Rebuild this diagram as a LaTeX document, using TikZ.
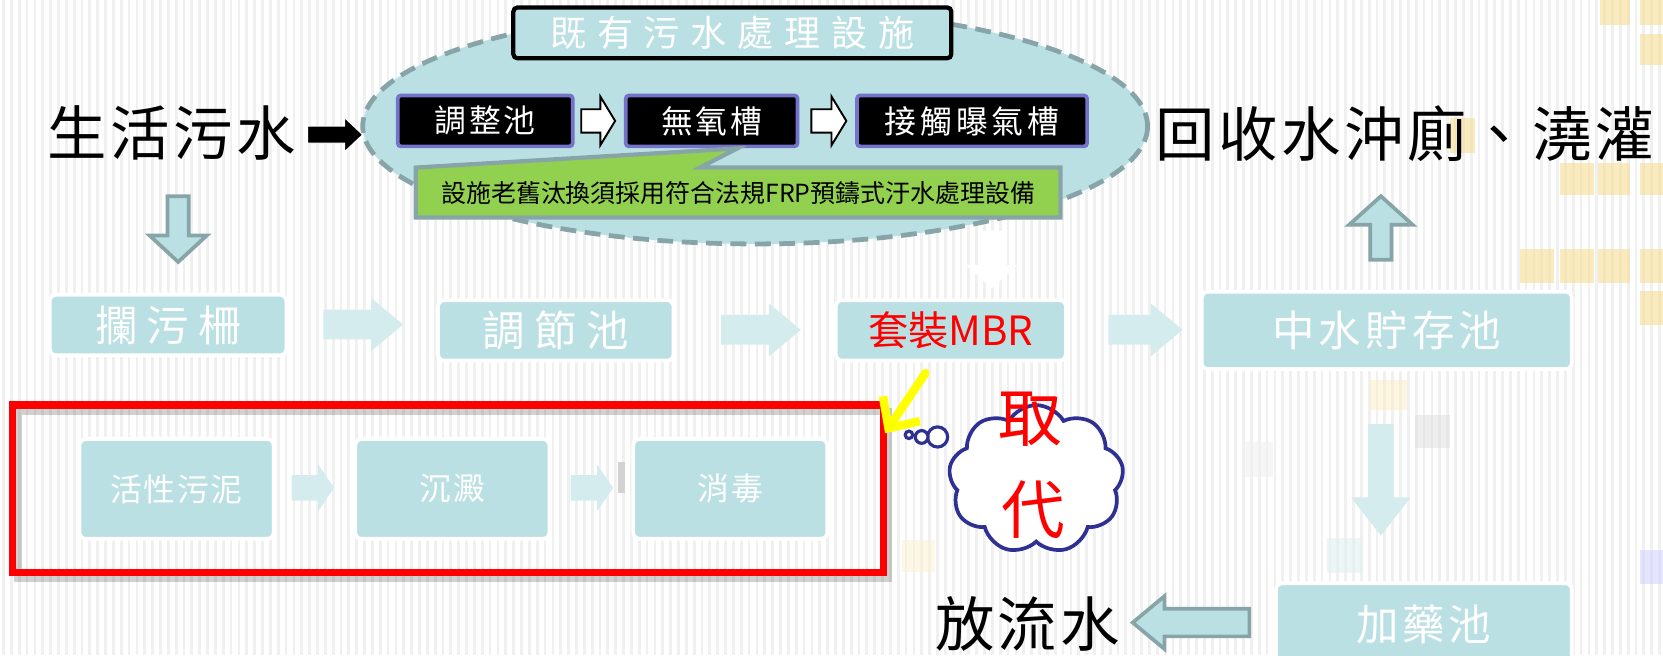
\documentclass[tikz,border=0pt]{standalone}
\usepackage{fontspec}
\newfontfamily\cjk{Noto Sans CJK TC}
\usetikzlibrary{shapes.symbols,arrows.meta,calc}
\definecolor{boxc}{HTML}{BBE0E3}
\definecolor{arrc}{HTML}{D5ECEE}
\definecolor{edgec}{HTML}{87A5A8}
\definecolor{purp}{HTML}{7373C9}
\definecolor{greenc}{HTML}{92D050}
\definecolor{navy}{HTML}{2E3192}
\definecolor{sqy}{HTML}{F7DC8C}
\definecolor{stripe}{HTML}{F0F0F0}
\definecolor{yel}{HTML}{FFFF00}
\newcommand\cjkf[2]{\cjk\addfontfeature{LetterSpace=#2}\fontsize{#1}{#1}\selectfont}
% horizontal block arrow: style, x start, x tip, y centre, shaft half, head half, head length (signed)
\newcommand\rarr[7]{\path[#1] (#2,{#4-#5}) -- ({#3-(#7)},{#4-#5}) -- ({#3-(#7)},{#4-#6}) -- (#3,#4) -- ({#3-(#7)},{#4+#6}) -- ({#3-(#7)},{#4+#5}) -- (#2,{#4+#5}) -- cycle;}
% vertical block arrow: style, y start, y tip, x centre, shaft half, head half, head length (signed)
\newcommand\varr[7]{\path[#1] ({#4-#5},#2) -- ({#4-#5},{#3-(#7)}) -- ({#4-#6},{#3-(#7)}) -- (#4,#3) -- ({#4+#6},{#3-(#7)}) -- ({#4+#5},{#3-(#7)}) -- ({#4+#5},#2) -- cycle;}
\tikzset{
  fade/.style={fill=boxc, draw=white, line width=3.5, rounded corners=6, text=white, inner sep=0pt},
  blk/.style={fill=black, draw=purp, line width=3.5, rounded corners=3, text=white, inner sep=0pt, minimum height=48},
  larr/.style={fill=arrc, draw=none},
  harr/.style={fill=boxc, draw=edgec, line width=3.5, line join=miter},
  warr/.style={fill=white, draw=black, line width=1.8, line join=miter},
  big/.style={font=\cjkf{56}{6}, text=black, inner sep=0pt},
  bub/.style={circle, draw=navy, line width=3, fill=white, inner sep=0pt},
}
\begin{document}
\begin{tikzpicture}[x=1pt,y=-1pt]
\useasboundingbox (0,0) rectangle (1568,617.6);
% background
\fill[white] (0,0) rectangle (1568,617.6);
\foreach \i in {0,...,212} \fill[stripe] ({\i*7.4+2},0) rectangle ({\i*7.4+4.6},617.6);
\begin{scope}[fill opacity=0.55]
\fill[sqy] (1509,0) rectangle (1537,24);
\fill[sqy] (1546,0) rectangle (1568,24);
\fill[sqy] (1546,32) rectangle (1568,61);
\fill[sqy] (1367,111) rectangle (1391,144);
\fill[sqy] (1471,154) rectangle (1503,184);
\fill[sqy] (1507,154) rectangle (1537,184);
\fill[sqy] (1546,154) rectangle (1568,184);
\fill[sqy] (1433,235) rectangle (1465,267);
\fill[sqy] (1471,235) rectangle (1503,267);
\fill[sqy] (1507,235) rectangle (1537,267);
\fill[sqy] (1546,235) rectangle (1568,267);
\fill[sqy] (1546,274) rectangle (1568,306);
\fill[sqy!50] (1292,358) rectangle (1327,387);
\fill[sqy!40] (850,509) rectangle (882,539);
\fill[gray!25] (1334,391) rectangle (1367,422);
\fill[gray!12] (1171,417) rectangle (1200,450);
\fill[teal!12] (1251,507) rectangle (1284,540);
\fill[blue!18] (1546,519) rectangle (1568,551);
\end{scope}

% existing facility group
\draw[edgec, line width=4.5, dash pattern=on 15pt off 8pt, fill=boxc] (712,119) ellipse [x radius=370, y radius=111];
\node[draw=black, line width=4, rounded corners=4, fill=boxc, minimum width=413, minimum height=48, inner sep=0pt, text=white, font=\cjkf{34}{30}] (title) at (690.5,31) {既有污水處理設施};
\node[blk, minimum width=165, font=\cjkf{30}{8}] (tj) at (457.5,114) {調整池};
\node[blk, minimum width=162, font=\cjkf{30}{8}] (wy) at (671,114) {無氧槽};
\node[blk, minimum width=217, font=\cjkf{30}{12}] (jc) at (916.5,114) {接觸曝氣槽};
\rarr{warr}{548}{580}{114}{11}{23}{14}
\rarr{warr}{765}{798}{114}{11}{23}{14}
\path[fill=greenc, draw=edgec, line width=4, line join=miter] (392,158) -- (695,140) -- (660,158) -- (1000,158) -- (1000,205) -- (392,205) -- cycle;
\node[font=\cjkf{23.5}{0}, inner sep=0pt] (note) at (696,182) {設施老舊汰換須採用符合法規FRP預鑄式汙水處理設備};

% inputs / outputs
\node[big] (src) at (162,125) {生活污水};
\rarr{fill=black, draw=white, line width=1}{290}{342}{127}{8}{16}{17}
\node[big] (reuse) at (1325,126) {回收水沖廁、澆灌};
\varr{harr}{185}{247}{168}{10}{27}{25}
\varr{harr}{245}{185}{1302}{10}{30}{-27}
\varr{fill=white}{218}{272}{935}{12}{24}{22}

% process row
\node[fade, minimum width=223, minimum height=57, font=\cjkf{40}{22}] (lan) at (158.5,306.5) {攔污柵};
\node[fade, minimum width=222, minimum height=57, font=\cjkf{40}{22}] (tjc) at (524,311.5) {調節池};
\node[fade, minimum width=217, minimum height=57, text=red, font=\cjkf{38}{0}] (mbr) at (896.5,311.5) {套裝MBR};
\node[fade, minimum width=349, minimum height=73, font=\cjkf{40}{10}] (zs) at (1307.5,311.5) {中水貯存池};
\rarr{larr}{305}{380}{306}{14}{25}{30}
\rarr{larr}{680}{755}{311}{14}{25}{30}
\rarr{larr}{1045}{1115}{311}{14}{25}{30}
\varr{larr}{400}{505}{1302}{12}{28}{36}
\node[fade, minimum width=279, minimum height=78, font=\cjkf{40}{8}] (jy) at (1342.5,589) {加藥池};
\rarr{harr}{1178}{1068}{587}{13}{25}{-30}
\node[big] (out) at (969,588) {放流水};

% replaced units
\draw[black, opacity=0.18, line width=7] (17,388) rectangle (838,545);
\node[draw=red, line width=7, minimum width=821, minimum height=158, inner sep=0pt] (rbox) at (422.5,461) {};
\node[fade, minimum width=183, minimum height=94, font=\cjkf{30}{5}] (hx) at (166.5,461) {活性污泥};
\node[fade, minimum width=183, minimum height=94, font=\cjkf{30}{5}] (cd) at (426.5,461) {沉澱};
\node[fade, minimum width=183, minimum height=94, font=\cjkf{30}{5}] (xd) at (688.5,461) {消毒};
\rarr{larr}{275}{315}{460}{12}{22}{15}
\rarr{larr}{538}{578}{460}{12}{22}{15}
\fill[gray!35] (583,436) rectangle (589,465);

\coordinate (ys) at ($(mbr.south)+(-24,10)$);
\coordinate (ye) at ($(rbox.north east)+(-2,30)$);
\draw[yel, line width=8, line cap=round, -{Straight Barb[length=22pt,width=42pt,line width=8pt]}] (ys) -- (ye);

% thought cloud
\node[cloud, cloud puffs=9, cloud puff arc=120, aspect=1.15, draw=navy, line width=3.5, fill=white, minimum width=165, minimum height=140, inner sep=0pt] (cl) at (977,452) {};
\node[bub, minimum size=19] (b1) at (884,412) {};
\node[bub, minimum size=12] (b2) at (869,412) {};
\node[bub, minimum size=7] (b3) at (857,410) {};
\node[text=red, font=\cjkf{60}{0}, inner sep=0pt] (qu) at (971,395) {取};
\node[text=red, font=\cjkf{60}{0}, inner sep=0pt] (dai) at (974,481) {代};
\end{tikzpicture}
\end{document}
